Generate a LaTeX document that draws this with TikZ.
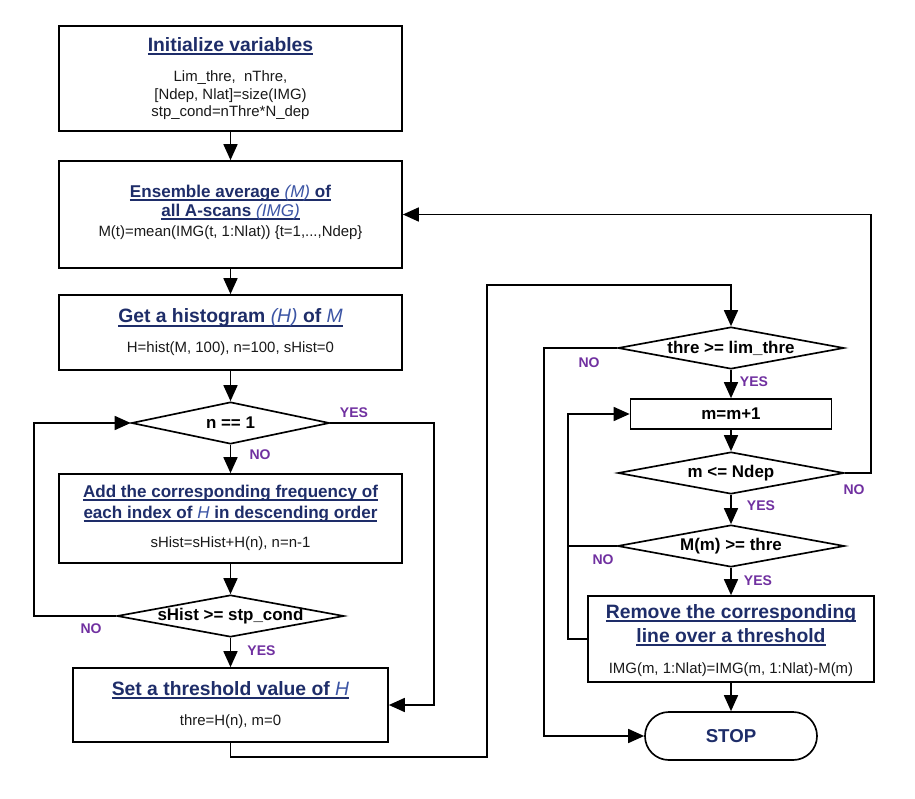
\documentclass[tikz,border=0pt]{standalone}
\usepackage{fontspec}
\setmainfont{Liberation Sans}
\usetikzlibrary{shapes.geometric,arrows.meta}
\definecolor{navy}{RGB}{30,45,105}
\definecolor{ltblue}{RGB}{60,85,165}
\definecolor{purp}{RGB}{112,48,160}
\definecolor{txt}{RGB}{25,25,25}
\newcommand\myul[1]{\leavevmode\setbox0=\hbox{#1}\rlap{\vrule width \wd0 height -1.7pt depth 3.0pt}\box0}
\newcommand\itl[1]{{\mdseries\itshape\color{ltblue}#1}}
\begin{document}
\begin{tikzpicture}[x=0.75pt,y=-0.75pt,
  box/.style={draw, line width=1.25pt, inner sep=0pt, fill=white},
  dia/.style={draw, diamond, line width=1.25pt, inner sep=0pt},
  ttl/.style={font=\fontsize{14.5}{17}\selectfont\bfseries, text=navy, align=center, inner sep=0pt},
  ttls/.style={font=\fontsize{12.8}{14.5}\selectfont\bfseries, text=navy, align=center, inner sep=0pt},
  body/.style={font=\fontsize{11.2}{13.1}\selectfont, text=txt, align=center, inner sep=0pt},
  dtxt/.style={font=\fontsize{12.7}{15}\selectfont\bfseries, text=black, inner sep=0pt},
  yn/.style={font=\fontsize{10.5}{12}\selectfont\bfseries, text=purp, inner sep=0pt},
  arr/.style={line width=1.25pt, -{Triangle[length=12pt,width=10.5pt]}},
  ln/.style={line width=1.25pt}]
\path[use as bounding box] (0,0) rectangle (915,799);

% left column
\node[box, minimum width=257.25pt, minimum height=78.75pt] (b1) at (230.5,78.5) {};
\node[ttl] (b1h) at (230.5,46) {\myul{Initialize variables}};
\node[body] (b1b) at (230.5,95.5) {Lim\_thre,\ \ nThre,\\ {[Ndep, Nlat]}=size(IMG)\\ stp\_cond=nThre*N\_dep};

\node[box, minimum width=257.25pt, minimum height=80.25pt] (b2) at (230.5,214.5) {};
\node[ttls, font=\fontsize{12.8}{14.3}\selectfont\bfseries] (b2h) at (230.5,202.5) {\myul{Ensemble average \itl{(M)} of}\\ \myul{all A-scans \itl{(IMG)}}};
\node[body] (b2b) at (230.5,233) {M(t)=mean(IMG(t, 1:Nlat)) \{t=1,...,Ndep\}};

\node[box, minimum width=257.25pt, minimum height=56.25pt] (b3) at (230.5,332.5) {};
\node[ttl] (b3h) at (230.5,318) {\myul{Get a histogram \itl{(H)} of \itl{M}}};
\node[body] (b3b) at (230.5,349) {H=hist(M, 100), n=100, sHist=0};

\node[dia, minimum width=148.5pt, minimum height=31.5pt] (d1) at (230.5,423) {};
\node[dtxt] (d1t) at (d1) {n == 1};

\node[box, minimum width=257.25pt, minimum height=66.75pt] (b4) at (230.5,518.5) {};
\node[ttls, font=\fontsize{12.8}{15.75}\selectfont\bfseries] (b4h) at (230.5,503.5) {\myul{Add the corresponding frequency of}\\ \myul{each index of \itl{H} in descending order}};
\node[body] (b4b) at (230.5,544) {sHist=sHist+H(n), n=n-1};

\node[dia, minimum width=170.25pt, minimum height=31.5pt] (d2) at (230.5,616) {};
\node[dtxt] (d2t) at (d2) {sHist >= stp\_cond};

\node[box, minimum width=236.25pt, minimum height=55.5pt] (b5) at (230.5,705) {};
\node[ttl] (b5h) at (230.5,690) {\myul{Set a threshold value of \itl{H}}};
\node[body] (b5b) at (230.5,722) {thre=H(n), m=0};

% right column
\node[dia, minimum width=169.5pt, minimum height=31.5pt] (d3) at (731,348) {};
\node[dtxt] (d3t) at (d3) {thre >= lim\_thre};

\node[box, minimum width=150.75pt, minimum height=22.5pt] (mm) at (731,414) {};
\node[dtxt] (mmt) at (mm) {m=m+1};

\node[dia, minimum width=169.5pt, minimum height=31.5pt] (d4) at (731,473) {};
\node[dtxt] (d4t) at (d4) {m <= Ndep};

\node[dia, minimum width=170.25pt, minimum height=31.5pt] (d5) at (731,546) {};
\node[dtxt] (d5t) at (d5) {M(m) >= thre};

\node[box, minimum width=214.5pt, minimum height=64.5pt] (rem) at (731,639) {};
\node[ttl, font=\fontsize{14.5}{18}\selectfont\bfseries] (remh) at (731,625) {\myul{Remove the corresponding}\\ \myul{line over a threshold}};
\node[body] (remb) at (731,670) {IMG(m, 1:Nlat)=IMG(m, 1:Nlat)-M(m)};

\node[draw, line width=1.25pt, rounded corners=17.9pt, minimum width=129pt, minimum height=36pt, inner sep=0pt,
  font=\fontsize{14}{16}\selectfont\bfseries, text=navy] (stop) at (731,736) {STOP};

% connectors left
\draw[arr] (b1.south) -- (b2.north);
\draw[arr] (b2.south) -- (b3.north);
\draw[arr] (b3.south) -- (d1.north);
\draw[arr] (d1.south) -- (b4.north);
\draw[arr] (b4.south) -- (d2.north);
\draw[arr] (d2.south) -- (b5.north);
\draw[arr] (d1.east) -- (434,423) |- (b5.east);
\draw[arr] (d2.west) -- (34,616) |- (d1.west);
\draw[arr] (b5.south) |- (487,757) -- (487,285) -| (d3.north);

% connectors right
\draw[arr] (d3.south) -- (mm.north);
\draw[arr] (d3.west) -- (544,348) |- (stop.west);
\draw[arr] (mm.south) -- (d4.north);
\draw[arr] (d4.east) -- (871,473) |- (b2.east);
\draw[arr] (d4.south) -- (d5.north);
\draw[arr] (d5.south) -- (rem.north);
\draw[ln] (d5.west) -- (568,546);
\draw[arr] (rem.west) -- (568,639) |- (mm.west);
\draw[arr] (rem.south) -- (stop.north);

% labels
\node[yn] (l1) at (260,455) {NO};
\node[yn] (l2) at (354,413) {YES};
\node[yn] (l3) at (91,629) {NO};
\node[yn] (l4) at (261.5,651) {YES};
\node[yn] (l5) at (589,363) {NO};
\node[yn] (l6) at (754,382) {YES};
\node[yn] (l7) at (854,490) {NO};
\node[yn] (l8) at (761,506) {YES};
\node[yn] (l9) at (603,560) {NO};
\node[yn] (l10) at (758,581) {YES};
\end{tikzpicture}
\end{document}
